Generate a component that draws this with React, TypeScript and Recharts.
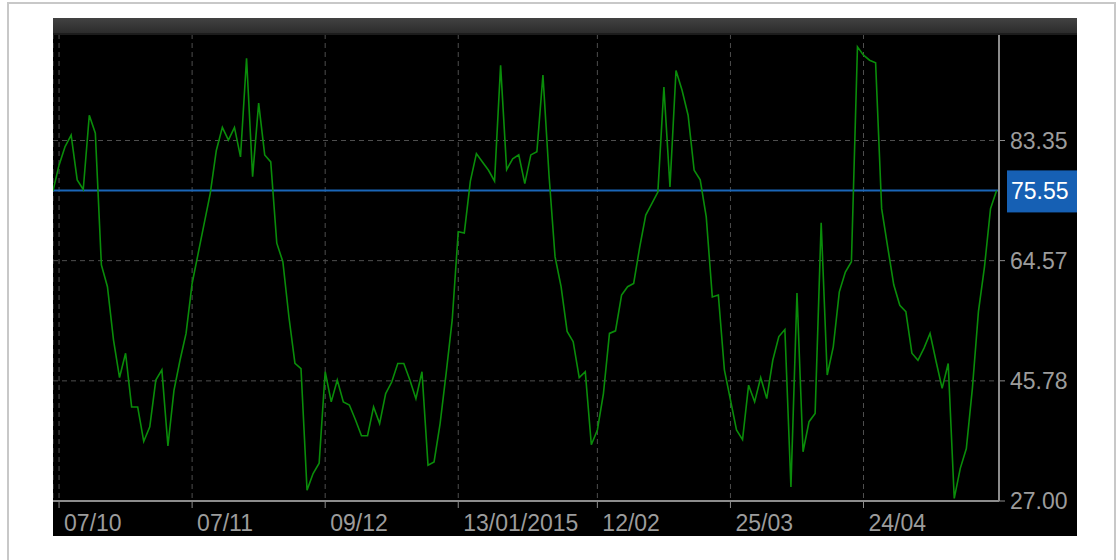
import { LineChart, Line, XAxis, YAxis, CartesianGrid, ReferenceLine } from "recharts";

// one value per session
const values = [
  75.5, 79.5, 82.4, 84.2, 77.2, 75.7, 87.3, 84.5, 63.9, 60.5,
  52.2, 46.3, 50.1, 41.7, 41.7, 36.3, 38.6, 45.9, 47.5, 35.6,
  44.3, 49.0, 53.2, 61.0, 65.7, 70.4, 75.1, 81.8, 85.4, 83.4,
  85.4, 80.8, 96.2, 77.7, 89.2, 81.1, 80.0, 67.3, 64.4, 55.8,
  48.5, 47.7, 28.7, 31.3, 32.9, 47.2, 42.5, 45.9, 42.5, 42.0,
  39.7, 37.2, 37.2, 41.7, 39.1, 43.8, 45.6, 48.5, 48.5, 45.9,
  43.0, 47.2, 32.6, 33.1, 39.1, 47.0, 55.3, 69.1, 68.9, 77.0,
  81.3, 80.0, 78.7, 77.0, 95.1, 78.8, 80.5, 81.1, 76.6, 81.1,
  81.6, 93.6, 78.0, 65.2, 60.5, 53.5, 51.9, 46.3, 47.2, 35.8,
  38.1, 43.8, 53.2, 53.6, 59.2, 60.5, 61.0, 66.7, 71.7, 73.5,
  75.3, 91.7, 76.1, 94.3, 91.2, 87.3, 78.7, 77.2, 71.4, 58.9,
  59.2, 47.5, 42.8, 38.1, 36.6, 45.1, 42.5, 46.3, 43.0, 49.0,
  52.7, 53.8, 29.2, 59.5, 34.7, 39.4, 40.7, 70.5, 46.7, 51.1,
  59.7, 62.8, 64.4, 98.0, 96.7, 95.9, 95.5, 72.7, 66.7, 60.8,
  57.6, 56.6, 50.1, 49.0, 50.9, 53.2, 48.8, 44.6, 48.5, 27.4,
  32.1, 35.2, 44.6, 56.6, 63.6, 72.7, 75.55,
];

const tickIndex = [1, 23, 45, 67, 90, 112, 134];
const tickLabels = ["07/10", "07/11", "09/12", "13/01/2015", "12/02", "25/03", "24/04"];
const yTicks = [27, 45.78, 64.57, 83.35];
const lastValue = 75.55;

const data = values.map((v, i) => ({ i, v }));

const FONT = "'Liberation Sans', Arial, sans-serif";
const LABEL = "#9c9c9c";

const DateTick = (props: any) => {
  const { x, y, payload } = props;
  const k = tickIndex.indexOf(payload.value);
  return (
    <text x={x + 5} y={y + 21} fill={LABEL} fontSize={23} fontFamily={FONT} textAnchor="start">
      {tickLabels[k]}
    </text>
  );
};

const PriceTick = (props: any) => {
  const { x, y, payload } = props;
  return (
    <text x={x + 3} y={y + 8} fill={LABEL} fontSize={23} fontFamily={FONT} textAnchor="start">
      {payload.value.toFixed(2)}
    </text>
  );
};

const LastTag = (props: any) => {
  const { viewBox } = props;
  const x = viewBox.x + viewBox.width + 8;
  const y = viewBox.y;
  return (
    <g>
      <rect x={x} y={y - 20} width={70} height={42} fill="#1660b4" />
      <text x={x + 4} y={y + 9} fill="#ffffff" fontSize={23} fontFamily={FONT} textAnchor="start">
        {lastValue.toFixed(2)}
      </text>
    </g>
  );
};

export default function App() {
  return (
    <div style={{ position: "fixed", left: 0, top: 0, width: 1120, height: 560, background: "#fff", overflow: "hidden" }}>
      <div
        style={{
          position: "absolute",
          left: 7,
          top: 2,
          width: 1109,
          height: 600,
          border: "2px solid #c8c8c8",
          boxSizing: "border-box",
        }}
      />
      <div style={{ position: "absolute", left: 53, top: 18, width: 1024, height: 518, background: "#000" }}>
        <LineChart width={1024} height={518} data={data} margin={{ top: 16, right: 0, bottom: 0, left: 0 }}>
          <CartesianGrid stroke="#4e4e4e" strokeDasharray="5 4" />
          <XAxis
            type="number"
            dataKey="i"
            domain={[0, 156.4]}
            ticks={tickIndex}
            interval={0}
            height={35}
            tickSize={7}
            axisLine={{ stroke: "#8c8c8c", strokeWidth: 2 }}
            tickLine={{ stroke: "#8c8c8c" }}
            tick={<DateTick />}
          />
          <YAxis
            orientation="right"
            type="number"
            domain={[27, 100]}
            ticks={yTicks}
            interval={0}
            width={78}
            tickSize={6}
            axisLine={{ stroke: "#8c8c8c", strokeWidth: 2 }}
            tickLine={{ stroke: "#8c8c8c" }}
            tick={<PriceTick />}
          />
          <ReferenceLine y={lastValue} stroke="#1a66b8" strokeWidth={2} label={(p: any) => <LastTag {...p} />} />
          <Line
            type="linear"
            dataKey="v"
            stroke="#0a8c0a"
            strokeWidth={1.6}
            dot={false}
            isAnimationActive={false}
          />
        </LineChart>
        <div
          style={{
            position: "absolute",
            left: 0,
            top: 0,
            width: 1024,
            height: 17,
            background: "linear-gradient(#424242, #2c2c2c)",
            borderBottom: "2px solid #1c1c1c",
            boxSizing: "border-box",
          }}
        />
      </div>
    </div>
  );
}
